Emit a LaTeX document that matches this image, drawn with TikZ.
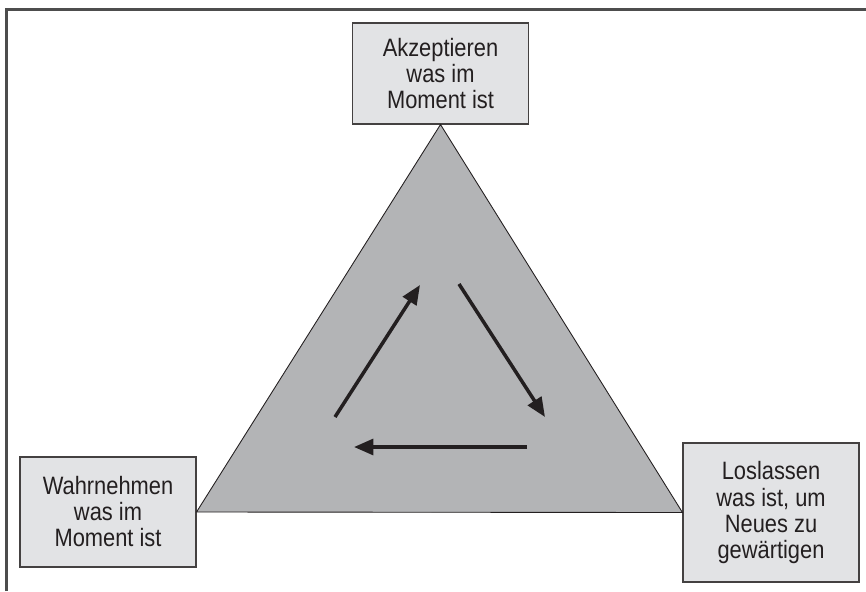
\documentclass[tikz,border=0pt]{standalone}
\usepackage{fontspec}
\setmainfont{Liberation Sans}[FakeStretch=0.87]
\usetikzlibrary{arrows.meta}

\definecolor{framegray}{HTML}{4D4D4D}
\definecolor{boxfill}{HTML}{E2E3E5}
\definecolor{trifill}{HTML}{B3B4B6}
\definecolor{inkdark}{HTML}{231F20}

\tikzset{
  phase/.style={draw=inkdark!85, line width=0.6pt, fill=boxfill,
    minimum width=3.52cm, align=center, inner sep=0pt, text=inkdark,
    font=\fontsize{14.3}{14.8}\selectfont},
  cyclearrow/.style={draw=inkdark, line width=2pt,
    -{Triangle[length=11pt,width=9pt]}}
}

\begin{document}
\begin{tikzpicture}
\useasboundingbox (0,0) rectangle (17.32,11.82);
% frame
\draw[framegray, line width=1.7pt] (0.13,0) -- (0.13,11.63) -- (17.4,11.63);

% the three boxes
\node[phase, minimum height=2.02cm] (accept) at (8.81,10.35) {Akzeptieren\\was im\\Moment ist};
\node[phase, minimum height=2.2cm] (perceive) at (2.16,1.58) {Wahrnehmen\\was im\\Moment ist};
\node[phase, minimum height=2.78cm] (release) at (15.42,1.57) {Loslassen\\was ist, um\\Neues zu\\gew\"artigen};

% triangle
\filldraw[fill=trifill, draw=inkdark, line width=0.5pt] (accept.south) -- (perceive.east) -- (release.west) -- cycle;

% cycle arrows
\coordinate (up0) at (6.7,3.48);
\coordinate (up1) at (8.4,6.12);
\coordinate (down0) at (9.18,6.14);
\coordinate (down1) at (10.9,3.48);
\coordinate (back0) at (10.54,2.88);
\coordinate (back1) at (7.08,2.88);
\draw[cyclearrow] (up0) -- (up1);
\draw[cyclearrow] (down0) -- (down1);
\draw[cyclearrow] (back0) -- (back1);
\end{tikzpicture}
\end{document}
